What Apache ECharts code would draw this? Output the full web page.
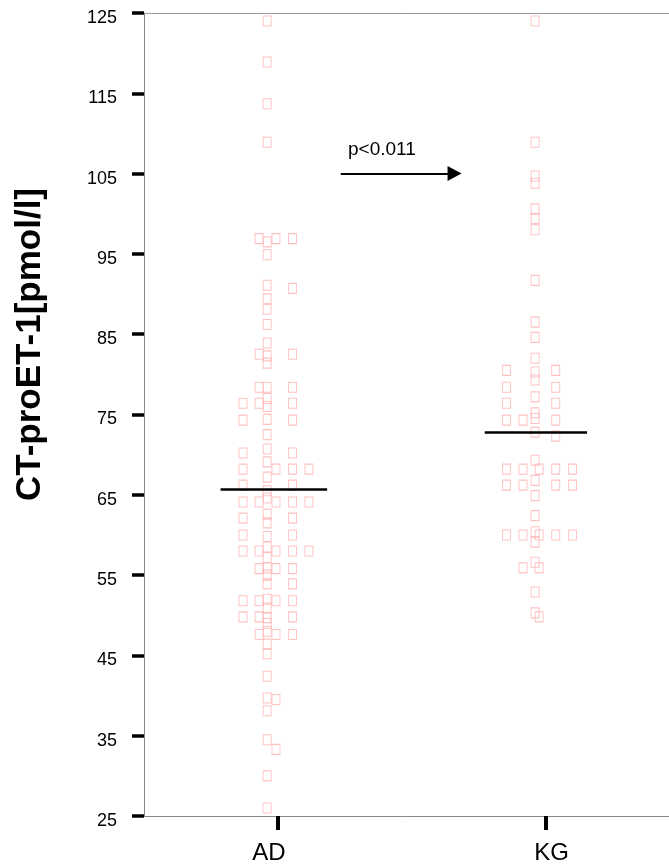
<!DOCTYPE html>
<html>
<head>
<meta charset="utf-8">
<script src="https://cdn.jsdelivr.net/npm/echarts@6/dist/echarts.min.js"></script>
<style>
  html, body { margin: 0; padding: 0; background: #fff; }
  #chart { width: 669px; height: 868px; }
</style>
</head>
<body>
<div id="chart"></div>
<script>
// Groups on the horizontal axis (AD at x = 1, KG at x = 2)
const groups = ['AD', 'KG'];

// CT-proET-1 measurements [pmol/l], group AD
const adValues = [
  124.0, 118.9, 113.7, 108.9,
  96.9, 96.5, 96.9, 96.9, 94.9,
  91.1, 90.7, 89.4, 88.1, 86.2, 83.9,
  82.5, 82.3, 81.4, 82.5,
  78.4, 78.4, 78.4,
  76.4, 76.4, 77.0, 76.0, 76.4,
  74.3, 74.4, 74.3, 72.5,
  70.2, 70.7, 70.2,
  68.2, 69.1, 68.2, 68.2, 68.2, 67.2,
  66.2, 66.2, 65.5,
  64.1, 64.1, 64.6, 64.1, 64.1, 64.1,
  62.1, 62.6, 61.5, 62.1,
  60.0, 59.8, 60.0,
  58.0, 58.0, 58.5, 58.0, 58.0, 58.0, 57.2,
  55.8, 55.9, 55.8, 55.8, 55.0,
  53.9, 53.9,
  51.8, 51.8, 52.0, 51.8, 51.8, 50.9,
  49.8, 49.8, 49.7, 49.8, 49.0, 48.0,
  47.6, 47.6, 47.6, 46.4, 45.2,
  42.4, 39.7, 39.5, 38.1, 34.5, 33.3, 30.0, 26.0
];
// Jitter lane of each AD point (index into adLaneOffsets)
const adLanes = [
  2, 2, 2, 2,
  1, 2, 3, 4, 2,
  2, 4, 2, 2, 2, 2,
  1, 2, 2, 4,
  1, 2, 4,
  0, 1, 2, 2, 4,
  0, 2, 4, 2,
  0, 2, 4,
  0, 2, 3, 4, 5, 2,
  0, 4, 2,
  0, 1, 2, 3, 4, 5,
  0, 2, 2, 4,
  0, 2, 4,
  0, 1, 2, 3, 4, 5, 2,
  1, 2, 3, 4, 2,
  2, 4,
  0, 1, 2, 3, 4, 2,
  0, 1, 2, 4, 2, 2,
  1, 3, 4, 2, 2,
  2, 2, 3, 2, 2, 3, 2, 2
];

// CT-proET-1 measurements [pmol/l], group KG
const kgValues = [
  124.0, 108.9, 104.7, 103.8, 100.6, 99.4, 98.0, 91.7, 86.5, 84.6, 82.0,
  80.5, 80.3, 79.3, 80.5,
  78.4, 78.4,
  76.4, 77.2, 76.4, 75.2,
  74.3, 74.3, 74.5, 74.3,
  72.8, 72.3, 69.3,
  68.2, 68.2, 68.2, 68.2, 68.2, 66.8,
  66.2, 66.2, 66.2, 66.2, 64.9,
  62.4, 60.4,
  60.0, 60.0, 60.0, 60.0, 60.0, 59.1,
  56.6, 55.9, 55.9, 52.9, 50.3, 49.8
];
// Jitter lane of each KG point (index into kgLaneOffsets)
const kgLanes = [
  2, 2, 2, 2, 2, 2, 2, 2, 2, 2, 2,
  0, 2, 2, 4,
  0, 4,
  0, 2, 4, 2,
  0, 1, 2, 4,
  2, 4, 2,
  0, 1, 3, 4, 5, 2,
  0, 1, 4, 5, 2,
  2, 2,
  0, 1, 3, 4, 5, 2,
  2, 1, 3, 2, 2, 3
];

// Group medians [pmol/l]
const medians = [65.7, 72.8];

// Value axis ticks
const yMin = 25, yMax = 125, yStep = 10;

// Significance annotation
const pValueText = 'p<0.011';
const arrowLevel = 105;

// ---- layout (horizontal lane offsets in axis units) ----
const adLaneOffsets = [-0.130, -0.070, -0.040, -0.007, 0.055, 0.116];
const kgLaneOffsets = [-0.146, -0.084, -0.039, -0.024, 0.038, 0.101];
const medianSpan = [[-0.214, 0.184], [-0.227, 0.155]];

const FONT = '"Liberation Sans", Arial, Helvetica, sans-serif';

const symbolStyle = {
  color: 'rgba(255,255,255,0)',
  borderColor: '#ffb0b0',
  borderWidth: 1
};

function medianLine(groupIndex) {
  const cx = groupIndex + 1;
  const m = medians[groupIndex];
  return {
    silent: true,
    symbol: 'none',
    label: { show: false },
    lineStyle: { color: '#000', width: 2.5, type: 'solid' },
    data: [[
      { coord: [cx + medianSpan[groupIndex][0], m] },
      { coord: [cx + medianSpan[groupIndex][1], m] }
    ]]
  };
}

const chart = echarts.init(document.getElementById('chart'), null, { renderer: 'canvas' });

chart.setOption({
  animation: false,
  backgroundColor: '#fff',
  grid: {
    left: 144, top: 13, width: 535.4, height: 803,
    outerBoundsMode: 'none',
    containLabel: false,
    show: false
  },
  xAxis: [
    {
      type: 'value',
      min: 0.5, max: 2.5,
      splitLine: { show: false },
      axisLine: { show: true, lineStyle: { color: '#888', width: 1 } },
      axisTick: {
        show: true, customValues: [1, 2], length: 14,
        lineStyle: { color: '#000', width: 4 }
      },
      axisLabel: {
        customValues: [1, 2],
        margin: 25,
        formatter: v => (v === 1 ? '{a|' + groups[0] + '}' : '{b|' + groups[1] + '}'),
        rich: {
          a: { fontSize: 24, fontFamily: FONT, color: '#000', padding: [0, 18, 0, 0] },
          b: { fontSize: 24, fontFamily: FONT, color: '#000', padding: [0, 0, 0, 12] }
        }
      }
    },
    {
      // top frame line of the plot area
      type: 'value',
      position: 'top',
      min: 0.5, max: 2.5,
      splitLine: { show: false },
      axisLine: { show: true, lineStyle: { color: '#9a9a9a', width: 1 } },
      axisTick: { show: false },
      axisLabel: { show: false }
    }
  ],
  yAxis: {
    type: 'value',
    min: yMin, max: yMax, interval: yStep,
    splitLine: { show: false },
    axisLine: { show: true, lineStyle: { color: '#888', width: 1 } },
    axisTick: { show: true, length: 12, lineStyle: { color: '#000', width: 3.5 } },
    axisLabel: {
      margin: 27,
      formatter: v => '{t|' + v + '}',
      rich: {
        t: { fontSize: 18, fontFamily: FONT, color: '#000', padding: [10, 0, 0, 0] }
      }
    },
    name: 'CT-proET-1[pmol/l]',
    nameLocation: 'middle',
    nameRotate: 90,
    nameGap: 96,
    nameTextStyle: {
      fontSize: 35, fontWeight: 'bold', fontFamily: FONT, color: '#000',
      padding: [0, 0, 0, 140]
    }
  },
  series: [
    {
      type: 'scatter',
      name: groups[0],
      silent: true,
      symbol: 'rect',
      symbolSize: [8, 10],
      itemStyle: symbolStyle,
      data: adValues.map((v, i) => [1 + adLaneOffsets[adLanes[i]], v]),
      markLine: medianLine(0)
    },
    {
      type: 'scatter',
      name: groups[1],
      silent: true,
      symbol: 'rect',
      symbolSize: [8, 10],
      itemStyle: symbolStyle,
      data: kgValues.map((v, i) => [2 + kgLaneOffsets[kgLanes[i]], v]),
      markLine: medianLine(1)
    },
    {
      // significance arrow from AD towards KG
      type: 'scatter',
      silent: true,
      data: [],
      markLine: {
        silent: true,
        symbol: ['none', 'triangle'],
        symbolSize: [15, 14],
        label: { show: false },
        lineStyle: { color: '#000', width: 2, type: 'solid' },
        data: [[
          { coord: [1.235, arrowLevel] },
          { coord: [1.660, arrowLevel] }
        ]]
      }
    }
  ]
});

// p-value text above the arrow
const pPos = chart.convertToPixel({ xAxisIndex: 0, yAxisIndex: 0 }, [1.262, 108.0]);
chart.setOption({
  graphic: [{
    type: 'text',
    x: pPos[0], y: pPos[1],
    silent: true,
    style: {
      text: pValueText,
      fontSize: 19, fontFamily: FONT, fill: '#000',
      align: 'left', verticalAlign: 'middle'
    }
  }]
});
</script>
</body>
</html>
